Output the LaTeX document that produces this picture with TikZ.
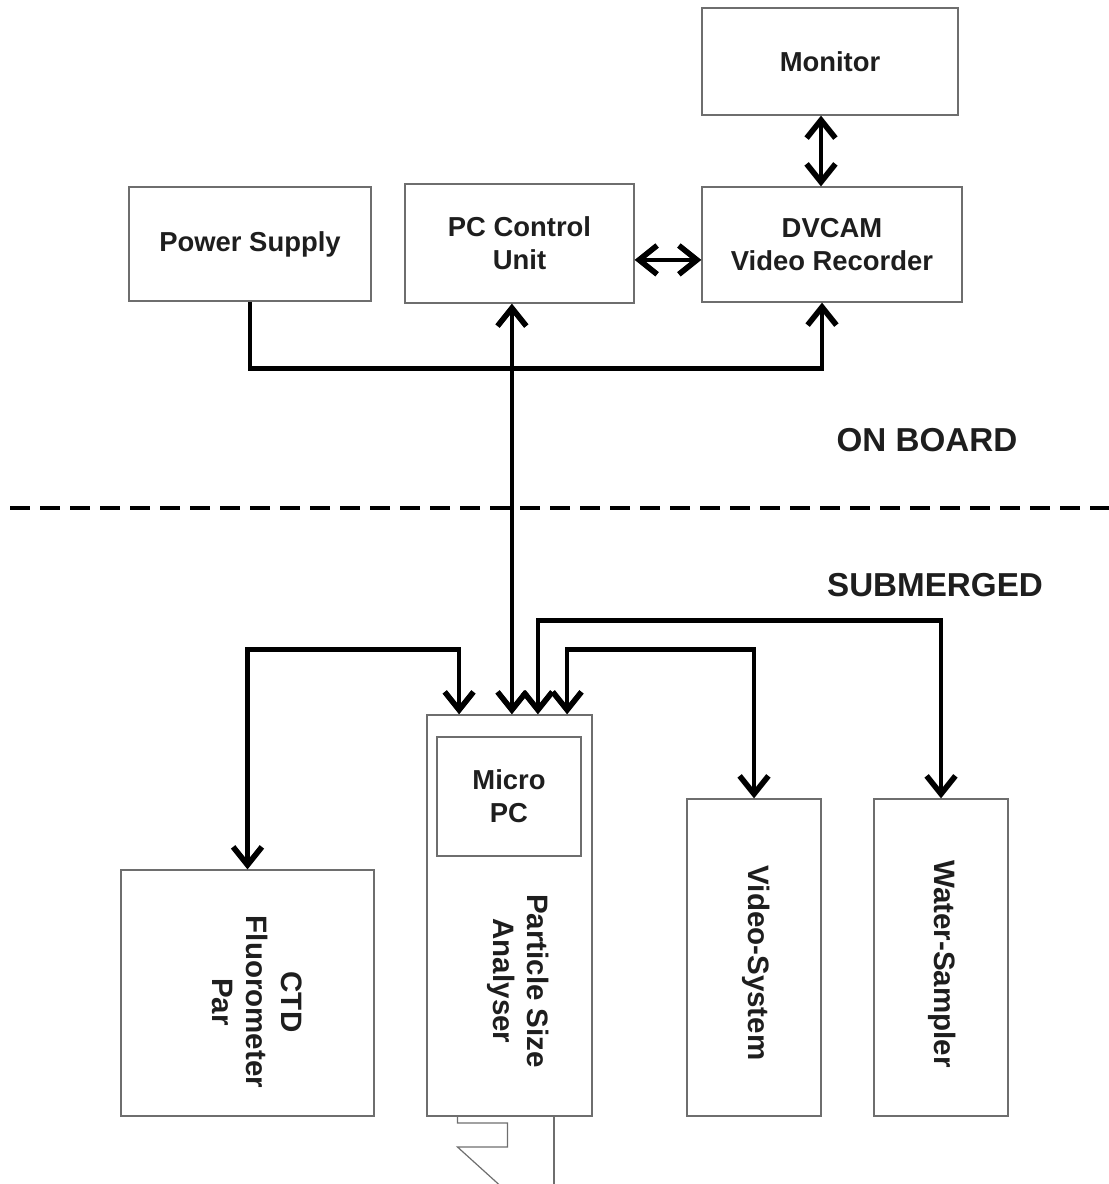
\documentclass[tikz,border=0pt]{standalone}
\usepackage{fontspec}
\setmainfont{Liberation Sans}
\usetikzlibrary{arrows.meta}
\definecolor{boxline}{HTML}{6E6E6E}
\definecolor{ink}{HTML}{1E1E1E}
\tikzset{
  unit/.style={draw=boxline,line width=0.03cm,inner sep=0pt,align=center,text=ink,
    font=\fontsize{19.5}{23.5}\selectfont\bfseries},
  tag/.style={text=ink,align=center,font=\fontsize{21}{24.5}\selectfont\bfseries},
  zone/.style={text=ink,font=\fontsize{23.6}{27}\selectfont\bfseries},
  link/.style={line width=0.11cm,>={Straight Barb[length=0.45cm,width=0.72cm,line width=0.14cm]}},
  housing/.style={draw=boxline,line width=0.03cm}
}
\begin{document}
\begin{tikzpicture}[x=0.025cm,y=-0.025cm]
\useasboundingbox (0,0) rectangle (1109,1184);
\node[unit,minimum width=6.4cm,minimum height=2.675cm] (monitor) at (830,61.5) {Monitor};
\node[unit,minimum width=6.05cm,minimum height=2.85cm] (power) at (250,244) {Power Supply};
\node[unit,minimum width=5.725cm,minimum height=2.975cm] (pcctrl) at (519.5,243.5) {PC Control\\Unit};
\node[unit,minimum width=6.5cm,minimum height=2.875cm] (dvcam) at (832,244.5) {DVCAM\\Video Recorder};
\node[unit,minimum width=6.325cm,minimum height=6.15cm] (ctd) at (247.5,993) {};
\node[tag,rotate=-90] (ctdtext) at (257,1002) {CTD\\Fluorometer\\Par};
\node[unit,minimum width=4.125cm,minimum height=10.025cm] (psa) at (509.5,915.5) {};
\node[tag,rotate=-90] (psatext) at (518,981) {Particle Size\\Analyser};
\node[unit,minimum width=3.6cm,minimum height=2.975cm] (micropc) at (509,796.5) {Micro\\PC};
\node[unit,minimum width=3.35cm,minimum height=7.925cm] (video) at (754,957.5) {};
\node[tag,rotate=-90] (videotext) at (756,963) {Video-System};
\node[unit,minimum width=3.35cm,minimum height=7.925cm] (water) at (941,957.5) {};
\node[tag,rotate=-90] (watertext) at (942,964) {Water-Sampler};
\node[zone] (onboard) at (927,440) {ON BOARD};
\node[zone] (submerged) at (935,585) {SUBMERGED};
\draw[line width=0.12cm,dash pattern=on 0.5cm off 0.25cm] (10,508) -- (1109,508);
\draw[link,<->] ([xshift=-0.275cm]dvcam.north) -- ([xshift=-0.275cm]dvcam.north |- monitor.south);
\draw[link,<->] ([yshift=-0.41cm]pcctrl.east) -- ([yshift=-0.41cm]pcctrl.east -| dvcam.west);
\draw[link,->] (power.south) -- ++(0,67) -| ([xshift=-0.25cm]dvcam.south);
\draw[link,<->] ([xshift=0.06cm]psa.north) -- ([xshift=0.06cm]psa.north |- pcctrl.south);
\draw[link,<->] ([xshift=-1.26cm]psa.north) -- ++(0,-65) -| (ctd.north);
\draw[link,<->] ([xshift=0.71cm]psa.north) -- ++(0,-94) -| (water.north);
\draw[link,<->] ([xshift=1.44cm]psa.north) -- ++(0,-65) -| (video.north);
\draw[housing] (457.5,1116) -- (457.5,1123) -- (507.5,1123) -- (507.5,1147) -- (457.5,1147) -- (505,1190);
\draw[housing] (554,1116) -- (554,1190);
\end{tikzpicture}
\end{document}
